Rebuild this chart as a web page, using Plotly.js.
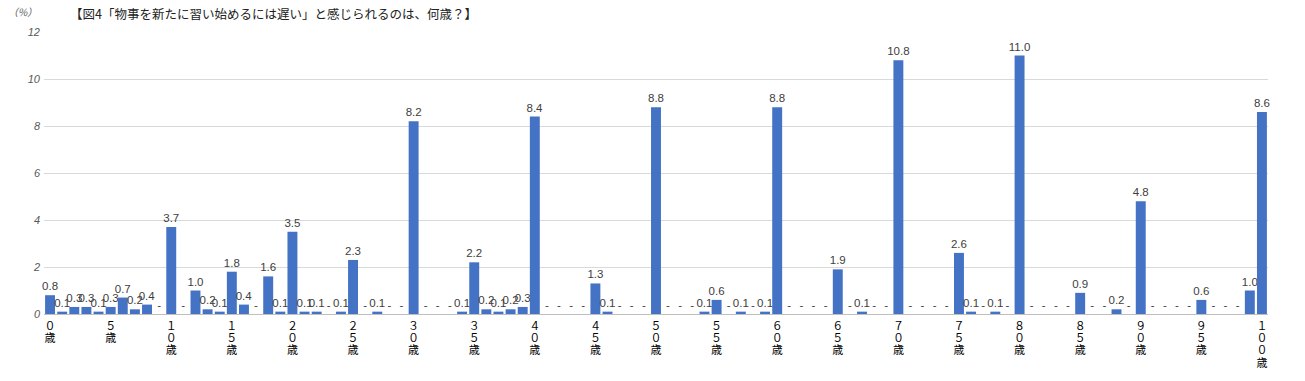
<!DOCTYPE html>
<html>
<head>
<meta charset="utf-8">
<script src="https://cdn.plot.ly/plotly-3.0.1.min.js"></script>
<style>html,body{margin:0;padding:0;background:#fff;}</style>
</head>
<body>
<div id="chart" style="width:1305px;height:381px;"></div>
<script>
// Ages 0..100
const ages = [];
for (let a = 0; a <= 100; a++) ages.push(a);

// Share (%) answering each age
const values = [
  0.8, 0.1, 0.3, 0.3, 0.1, 0.3, 0.7, 0.2, 0.4, 0.0,   // 0-9
  3.7, 0.0, 1.0, 0.2, 0.1, 1.8, 0.4, 0.0, 1.6, 0.1,   // 10-19
  3.5, 0.1, 0.1, 0.0, 0.1, 2.3, 0.0, 0.1, 0.0, 0.0,   // 20-29
  8.2, 0.0, 0.0, 0.0, 0.1, 2.2, 0.2, 0.1, 0.2, 0.3,   // 30-39
  8.4, 0.0, 0.0, 0.0, 0.0, 1.3, 0.1, 0.0, 0.0, 0.0,   // 40-49
  8.8, 0.0, 0.0, 0.0, 0.1, 0.6, 0.0, 0.1, 0.0, 0.1,   // 50-59
  8.8, 0.0, 0.0, 0.0, 0.0, 1.9, 0.0, 0.1, 0.0, 0.0,   // 60-69
  10.8, 0.0, 0.0, 0.0, 0.0, 2.6, 0.1, 0.0, 0.1, 0.0,  // 70-79
  11.0, 0.0, 0.0, 0.0, 0.0, 0.9, 0.0, 0.0, 0.2, 0.0,  // 80-89
  4.8, 0.0, 0.0, 0.0, 0.0, 0.6, 0.0, 0.0, 0.0, 1.0,   // 90-99
  8.6                                                 // 100
];

const tickAges = [0,5,10,15,20,25,30,35,40,45,50,55,60,65,70,75,80,85,90,95,100];
const yTicks = [0,2,4,6,8,10,12];
const titleText = '【図4「物事を新たに習い始めるには遅い」と感じられるのは、何歳？】';
const unitText = '（%）';

const labels = values.map(v => v === 0 ? '-' : v.toFixed(1));
const fw = s => s.replace(/[0-9]/g, d => String.fromCharCode(d.charCodeAt(0) + 0xFEE0));
const tickText = tickAges.map(a =>
  (fw(String(a)) + '歳').split('').map(c => '<span style="font-size:11px">' + c + '</span>').join('<br>')
);

const trace = {
  type: 'bar',
  x: ages,
  y: values,
  text: labels,
  textposition: 'outside',
  constraintext: 'none',
  cliponaxis: false,
  textfont: {family: 'Liberation Sans, Arial, sans-serif', size: 11.5, color: '#404040'},
  marker: {color: '#4472C4'},
  hoverinfo: 'x+y'
};

const layout = {
  width: 1305,
  height: 381,
  margin: {l: 44, r: 37, t: 32, b: 67, pad: 0},
  paper_bgcolor: '#ffffff',
  plot_bgcolor: '#ffffff',
  bargap: 0.18,
  showlegend: false,
  title: {
    text: titleText,
    x: 70/1305, xref: 'container', xanchor: 'left',
    y: 1 - 15/381, yref: 'container', yanchor: 'middle',
    font: {family: 'Noto Sans CJK JP, sans-serif', size: 12.5, color: '#222222'}
  },
  xaxis: {
    range: [-0.5, 100.5],
    tickmode: 'array',
    tickvals: tickAges,
    ticktext: tickText,
    tickangle: 0,
    ticks: '',
    showgrid: false,
    zeroline: false,
    showline: false,
    tickfont: {family: 'Noto Sans CJK JP, sans-serif', size: 9.5, color: '#000000'},
    ticklabelstandoff: 5
  },
  yaxis: {
    range: [0, 12],
    tickmode: 'array',
    tickvals: yTicks,
    ticktext: yTicks.map(String),
    showgrid: true,
    gridcolor: '#d9d9d9',
    gridwidth: 1,
    zeroline: true,
    zerolinecolor: '#bfbfbf',
    zerolinewidth: 1,
    showline: false,
    ticks: '',
    tickfont: {family: 'Liberation Sans, Arial, sans-serif', size: 11, color: '#595959', style: 'italic'},
    ticklabelstandoff: 3
  },
  annotations: [{
    text: unitText,
    xref: 'paper', yref: 'paper',
    x: -5/1224, y: 1 + 20/282,
    xanchor: 'right', yanchor: 'middle',
    showarrow: false,
    font: {family: 'Noto Sans CJK JP, sans-serif', size: 10, color: '#595959', style: 'italic'}
  }]
};

Plotly.newPlot('chart', [trace], layout, {displayModeBar: false, staticPlot: true});
</script>
</body>
</html>
